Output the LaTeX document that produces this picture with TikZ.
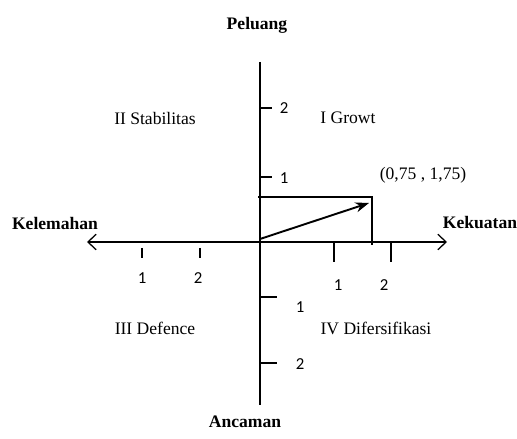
\documentclass[tikz,border=0pt]{standalone}
\usepackage{fontspec}
\setmainfont{Liberation Serif}
\newfontfamily\numfont{Carlito}
\usetikzlibrary{arrows.meta,positioning}

\begin{document}
\begin{tikzpicture}[
    x=0.022cm, y=0.022cm,
    axis/.style={
        line width=0.8pt,
        {Straight Barb[length=1.8mm,width=3.4mm]}-{Straight Barb[length=1.8mm,width=3.4mm]}
    },
    half/.style={line width=0.8pt},
    tick/.style={line width=0.7pt},
    num/.style={font=\numfont\fontsize{10.5}{12}\selectfont, inner sep=0pt},
    side/.style={font=\bfseries\fontsize{11}{13}\selectfont},
    quad/.style={font=\fontsize{11}{13}\selectfont},
    vector/.style={-{Stealth[length=3mm,width=2.2mm]}, line width=1.2pt}
]
\useasboundingbox (-260,-197) rectangle (257,242);

\coordinate (O) at (0,0);
\coordinate (W) at (-173,0);
\coordinate (E) at (187,0);
\coordinate (N) at (0,180);
\coordinate (S) at (0,-163);
\coordinate (P) at (112,45);
\coordinate (Px) at (112,-3);
\coordinate (Py) at (-2,45);
\coordinate (V0) at (0,3);
\coordinate (V1) at (109,39);

\draw[axis] (W) -- (E);
\draw[half] (N) -- (S);

\draw[tick] (-118,-6) -- (-118,-16);
\draw[tick] (-60,-6) -- (-60,-16);
\draw[tick] (74,-1) -- (74,-20);
\draw[tick] (131,-1) -- (131,-20);
\node[num] (xl1) at (-118,-36) {1};
\node[num] (xl2) at (-62,-36) {2};
\node[num] (xr1) at (78,-43) {1};
\node[num] (xr2) at (124,-43) {2};

\draw[tick] (0,134) -- (12,134);
\draw[tick] (0,65) -- (12,65);
\draw[tick] (0,-55) -- (17,-55);
\draw[tick] (0,-121) -- (17,-121);
\node[num] (yu2) at (24,134) {2};
\node[num] (yu1) at (24,64) {1};
\node[num] (yd1) at (40,-65) {1};
\node[num] (yd2) at (40,-122) {2};

\draw[half] (Py) -- (P) -- (Px);
\draw[vector] (V0) -- (V1);

\node[side] (peluang) at (-3,217) {Peluang};
\node[side] (kelemahan) at (-205,19) {Kelemahan};
\node[side] (kekuatan) at (220,19) {Kekuatan};
\node[side] (ancaman) at (-15,-180) {Ancaman};

\node[quad] (q2) at (-105,124) {II Stabilitas};
\node[quad] (q1) at (88,124) {I Growt};
\node[quad] (pt) at (163,67) {(0,75 , 1,75)};
\node[quad] (q3) at (-105,-86) {III Defence};
\node[quad] (q4) at (116,-86) {IV Difersifikasi};
\end{tikzpicture}
\end{document}
